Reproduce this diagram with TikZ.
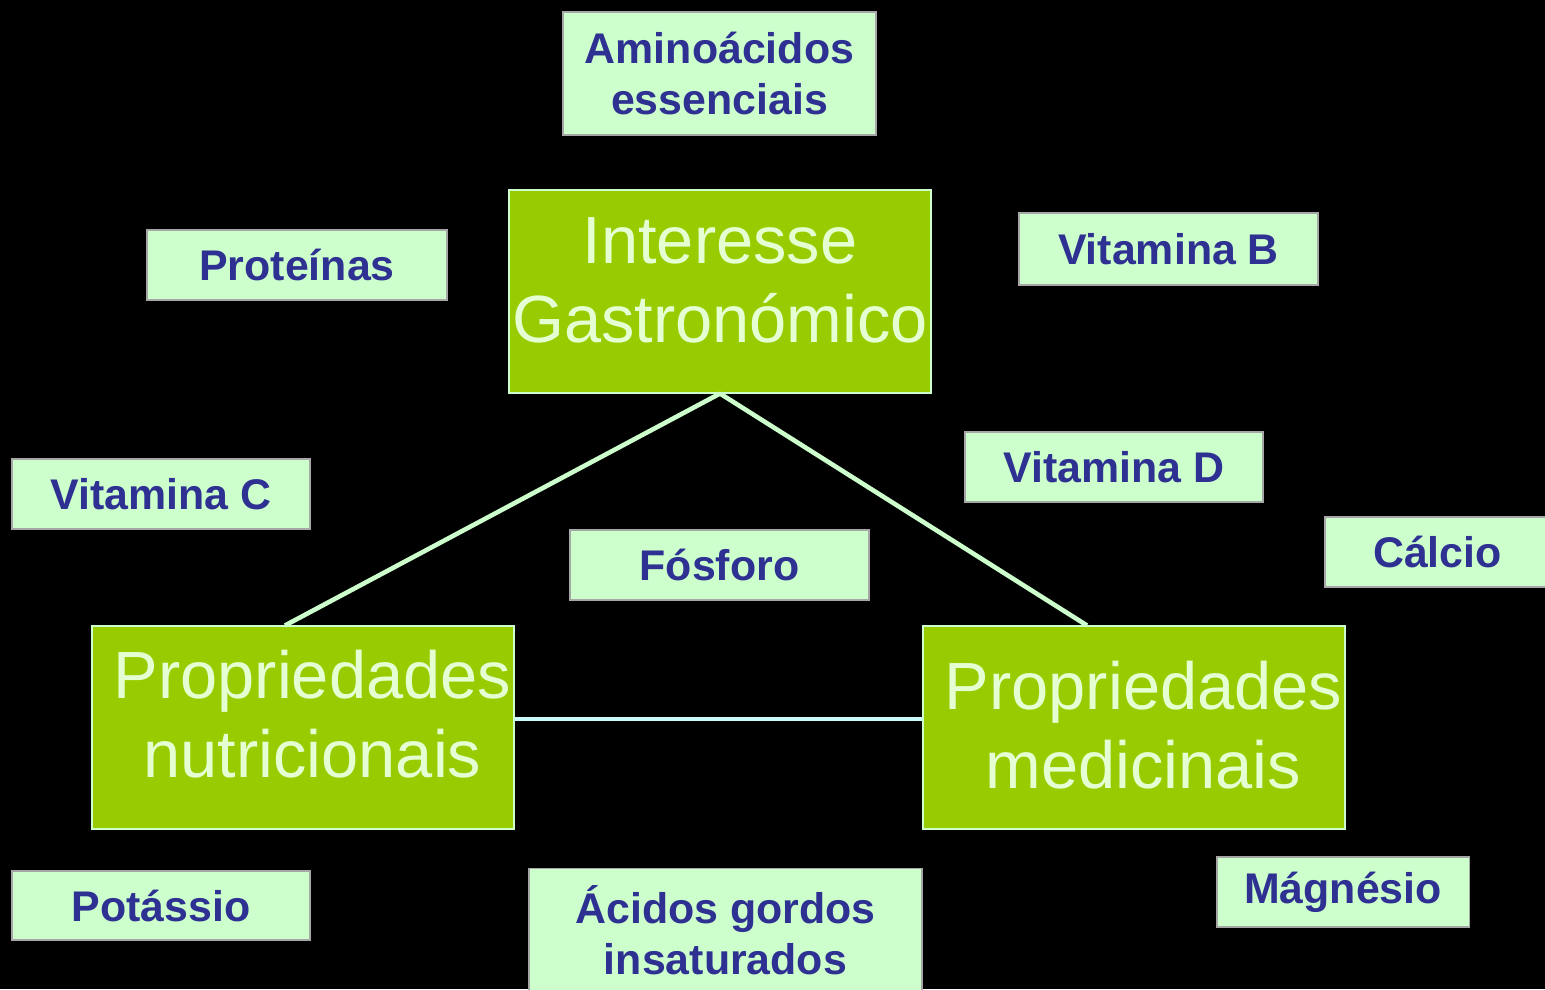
\documentclass[tikz,border=0pt]{standalone}
\usepackage{fontspec}
\setmainfont{Liberation Sans}
\usepackage{tikz}
\definecolor{leaf}{HTML}{99CC00}
\definecolor{mint}{HTML}{CCFFCC}
\definecolor{ink}{HTML}{2E3192}
\definecolor{paletext}{HTML}{E6FFD2}
\definecolor{sky}{HTML}{C8FAFA}
\tikzset{
  mainbox/.style={draw=mint, line width=0.6pt, fill=leaf,
    inner sep=0pt, minimum width=8.44cm, minimum height=4.06cm},
  maintext/.style={text=paletext, align=center, inner sep=0pt,
    font=\fontsize{38}{45}\selectfont},
  ideabox/.style={draw=gray!70, line width=0.6pt, fill=mint, text=ink, align=center,
    inner sep=0pt, minimum height=1.4cm,
    font=\fontsize{24.4}{29.3}\selectfont\bfseries},
  link/.style={line width=2.6pt}
}
\begin{document}
\begin{tikzpicture}
\fill[black] (0,0) rectangle (30.9,-19.78);
\useasboundingbox (0,0) rectangle (30.9,-19.78);
% central topic and the two properties
\node[mainbox, label={[maintext, yshift=0.22cm]center:Interesse\\Gastronómico}] (gastro) at (14.4,-5.83) {};
\node[mainbox, label={[maintext, xshift=0.19cm, yshift=0.26cm]center:Propriedades\\nutricionais}] (nutr) at (6.06,-14.55) {};
\node[mainbox, label={[maintext, xshift=0.19cm, yshift=0.04cm]center:Propriedades\\medicinais}] (med) at (22.68,-14.55) {};
% nutrients
\node[ideabox, minimum width=6.26cm, minimum height=2.46cm] (amino) at (14.39,-1.47) {Aminoácidos\\essenciais};
\node[ideabox, minimum width=6cm] (prot) at (5.94,-5.3) {Proteínas};
\node[ideabox, minimum width=5.98cm, minimum height=1.44cm] (vitB) at (23.37,-4.98) {Vitamina B};
\node[ideabox, minimum width=5.96cm] (vitC) at (3.22,-9.88) {Vitamina C};
\node[ideabox, minimum width=5.96cm] (vitD) at (22.28,-9.34) {Vitamina D};
\node[ideabox, minimum width=4.5cm] (calcio) at (28.75,-11.04) {Cálcio};
\node[ideabox, minimum width=5.98cm] (fosforo) at (14.39,-11.3) {Fósforo};
\node[ideabox, minimum width=5.96cm, minimum height=1.38cm] (potassio) at (3.22,-18.11) {Potássio};
\node[ideabox, minimum width=7.86cm, minimum height=2.46cm] (acidos) at (14.51,-18.6) {Ácidos gordos\\insaturados};
\node[ideabox, minimum width=5.04cm] (magnesio) at (26.86,-17.84) {Mágnésio};
% links
\draw[link, color=mint] (gastro.south) -- ([xshift=-0.36cm]nutr.north);
\draw[link, color=mint] (gastro.south) -- ([xshift=-0.94cm]med.north);
\draw[link, color=sky] ([yshift=0.17cm]nutr.east) -- ([yshift=0.17cm]med.west);
\end{tikzpicture}
\end{document}
